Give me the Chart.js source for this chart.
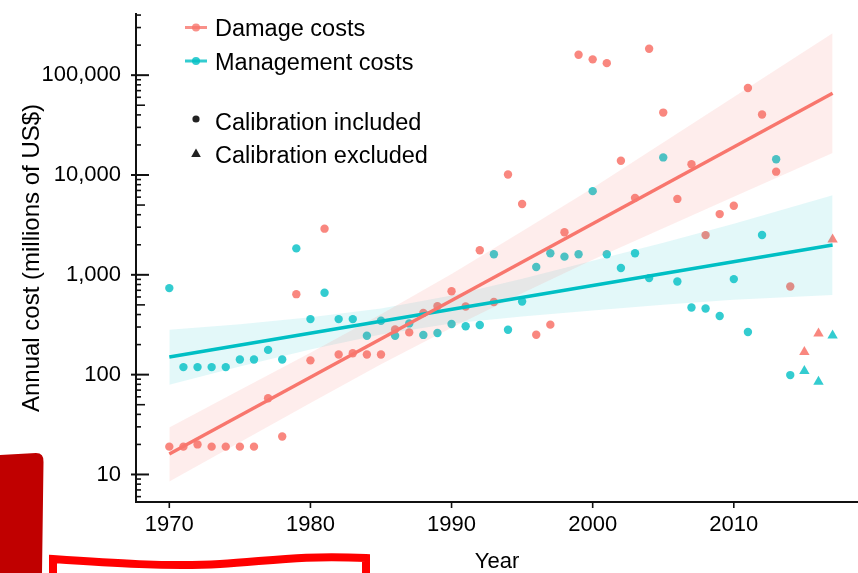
<!DOCTYPE html>
<html>
<head>
<meta charset="utf-8">
<title>Annual cost</title>
<script src="https://cdn.jsdelivr.net/npm/chart.js@4.4.0/dist/chart.umd.min.js"></script>
<style>
  html, body { margin: 0; padding: 0; background: #fff; }
  #wrap { position: relative; width: 858px; height: 573px; }
</style>
</head>
<body>
<div id="wrap"><canvas id="costs-chart"></canvas></div>
<script>
// valores (milhões de US$)
var years = [1970, 1971, 1972, 1973, 1974, 1975, 1976, 1977, 1978, 1979,
             1980, 1981, 1982, 1983, 1984, 1985, 1986, 1987, 1988, 1989,
             1990, 1991, 1992, 1993, 1994, 1995, 1996, 1997, 1998, 1999,
             2000, 2001, 2002, 2003, 2004, 2005, 2006, 2007, 2008, 2009,
             2010, 2011, 2012, 2013, 2014];
var damageCosts = [19, 19, 20, 19, 19, 19, 19, 58, 24, 640,
                   139, 2900, 159, 164, 159, 159, 284, 265, 415, 486,
                   684, 482, 1760, 534, 10100, 5120, 251, 317, 2670, 160000,
                   144000, 132000, 13900, 5900, 184000, 42200, 5760, 12800, 2500, 4060,
                   4920, 74500, 40300, 10800, 764];
var managementCosts = [736, 119, 119, 119, 119, 142, 142, 177, 142, 1840,
                       360, 661, 360, 360, 245, 347, 245, 326, 250, 261,
                       322, 305, 314, 1607, 282, 541, 1197, 1645, 1521, 1607,
                       6890, 1607, 1169, 1645, 927, 15000, 857, 471, 460, 387,
                       906, 267, 2506, 14400, 99];

// anos sem calibração (triângulos)
var excludedYears = [2015, 2016, 2017];
var damageExcluded = [169, 259, 2260];
var managementExcluded = [109, 85, 247];

// retas de tendência e faixas de confiança
var trendYears = [1970, 2017];
var damageTrend = [16, 66000];
var managementTrend = [150, 1990];
var bandYears = [1970, 1975, 1980, 1985, 1990, 1995, 2000, 2005, 2010, 2017];
var damageUpper = [29.5, 70, 166, 403, 1020, 2730, 7430, 21200, 60400, 263000];
var damageLower = [8.5, 21, 52, 127, 295, 655, 1416, 2920, 6040, 16600];
var managementUpper = [282, 320, 375, 460, 621, 916, 1387, 2094, 3243, 6281];
var managementLower = [79, 121, 179, 253, 326, 382, 439, 502, 564, 628];

var xTicks = [1970, 1980, 1990, 2000, 2010];
var yTicks = [10, 100, 1000, 10000, 100000];

var FONT = '"Liberation Sans", Arial, Helvetica, sans-serif';
var RED = '#F8766D', TEAL = '#00BFC4';

function pairs(xs, ys) {
  return xs.map(function(x, i) { return { x: x, y: ys[i] }; });
}

// ticks, legenda e marcações
var extras = {
  id: 'extras',
  afterDraw: function(chart) {
    var ctx = chart.ctx, xs = chart.scales.x, ys = chart.scales.y;
    var left = chart.chartArea.left, bottom = chart.chartArea.bottom;
    ctx.save();
    ctx.strokeStyle = '#111';

    // ticks do eixo y (menores para dentro)
    for (var e = 0; e <= 5; e++) {
      for (var m = 1; m <= 9; m++) {
        var v = m * Math.pow(10, e);
        if (v < ys.min || v > ys.max) continue;
        var py = ys.getPixelForValue(v);
        var x0 = left, x1 = left + 5;
        ctx.lineWidth = 1.6;
        if (m === 1) { x0 = left - 5; x1 = left + 13; ctx.lineWidth = 2; }
        else if (m === 5) { x1 = left + 9; }
        ctx.beginPath();
        ctx.moveTo(x0, py);
        ctx.lineTo(x1, py);
        ctx.stroke();
      }
    }
    // ticks do eixo x
    ctx.lineWidth = 1.6;
    xTicks.forEach(function(t) {
      var px = xs.getPixelForValue(t);
      ctx.beginPath();
      ctx.moveTo(px, bottom);
      ctx.lineTo(px, bottom + 6);
      ctx.stroke();
    });

    // legenda
    ctx.font = '23.5px ' + FONT;
    ctx.textBaseline = 'alphabetic';
    ctx.fillStyle = '#000';
    var lx = 196, tx = 215;
    [[RED, 27.5, 'Damage costs'], [TEAL, 61, 'Management costs']].forEach(function(r) {
      ctx.strokeStyle = r[0];
      ctx.globalAlpha = 0.8;
      ctx.lineWidth = 3;
      ctx.beginPath();
      ctx.moveTo(lx - 11, r[1]);
      ctx.lineTo(lx + 11, r[1]);
      ctx.stroke();
      ctx.fillStyle = r[0];
      ctx.beginPath();
      ctx.arc(lx, r[1], 4, 0, Math.PI * 2);
      ctx.fill();
      ctx.globalAlpha = 1;
      ctx.fillStyle = '#000';
      ctx.fillText(r[2], tx, r[1] + 8.5);
    });
    ctx.fillStyle = '#222';
    ctx.beginPath();
    ctx.arc(lx, 119, 3.6, 0, Math.PI * 2);
    ctx.fill();
    ctx.beginPath();
    ctx.moveTo(lx, 148.5);
    ctx.lineTo(lx + 4.8, 157);
    ctx.lineTo(lx - 4.8, 157);
    ctx.closePath();
    ctx.fill();
    ctx.fillStyle = '#000';
    ctx.fillText('Calibration included', tx, 129.5);
    ctx.fillText('Calibration excluded', tx, 162.5);

    // marcações vermelhas
    ctx.fillStyle = '#C00000';
    ctx.beginPath();
    ctx.moveTo(0, 455);
    ctx.lineTo(36, 453);
    ctx.quadraticCurveTo(44, 453, 43.5, 462);
    ctx.lineTo(42, 573);
    ctx.lineTo(0, 573);
    ctx.closePath();
    ctx.fill();

    ctx.strokeStyle = '#FF0000';
    ctx.lineWidth = 8;
    ctx.lineJoin = 'miter';
    ctx.beginPath();
    ctx.moveTo(53, 575);
    ctx.lineTo(53, 559);
    ctx.bezierCurveTo(110, 563, 170, 567, 220, 564);
    ctx.bezierCurveTo(270, 561, 300, 555, 366, 558);
    ctx.lineTo(366, 575);
    ctx.stroke();
    ctx.restore();
  }
};

var ctx = document.getElementById('costs-chart');

new Chart(ctx, {
  type: 'scatter',
  data: {
    datasets: [
      { data: pairs(trendYears, damageTrend), showLine: true, borderColor: RED,
        borderWidth: 3.4, pointRadius: 0, order: 0 },
      { data: pairs(trendYears, managementTrend), showLine: true, borderColor: TEAL,
        borderWidth: 3.6, pointRadius: 0, order: 0 },
      { data: pairs(bandYears, damageUpper), showLine: true, borderColor: 'rgba(0,0,0,0)',
        pointRadius: 0, fill: '+1', backgroundColor: 'rgba(248,118,109,0.13)', order: 1 },
      { data: pairs(bandYears, damageLower), showLine: true, borderColor: 'rgba(0,0,0,0)',
        pointRadius: 0, fill: false, order: 1 },
      { data: pairs(bandYears, managementUpper), showLine: true, borderColor: 'rgba(0,0,0,0)',
        pointRadius: 0, fill: '+1', backgroundColor: 'rgba(0,191,196,0.11)', order: 1 },
      { data: pairs(bandYears, managementLower), showLine: true, borderColor: 'rgba(0,0,0,0)',
        pointRadius: 0, fill: false, order: 1 },
      { data: pairs(years, damageCosts), pointRadius: 4.2, borderWidth: 0,
        backgroundColor: 'rgba(248,118,109,0.88)', order: 2 },
      { data: pairs(years, managementCosts), pointRadius: 4.2, borderWidth: 0,
        backgroundColor: 'rgba(0,191,196,0.8)', order: 2 },
      { data: pairs(excludedYears, damageExcluded), pointStyle: 'triangle', pointRadius: 6,
        borderWidth: 0, backgroundColor: 'rgba(248,118,109,0.88)', order: 2 },
      { data: pairs(excludedYears, managementExcluded), pointStyle: 'triangle', pointRadius: 6,
        borderWidth: 0, backgroundColor: 'rgba(0,191,196,0.8)', order: 2 }
    ]
  },
  options: {
    responsive: true,
    maintainAspectRatio: false,
    animation: false,
    layout: { autoPadding: false, padding: { top: 14, left: 0, right: 0, bottom: 0 } },
    plugins: {
      legend: { display: false },
      tooltip: { enabled: false }
    },
    scales: {
      x: {
        type: 'linear',
        min: 1967.64,
        max: 2018.8,
        afterBuildTicks: function(s) { s.ticks = xTicks.map(function(v) { return { value: v }; }); },
        afterFit: function(s) { s.height = 71; s.paddingLeft = 0; s.paddingRight = 0; },
        ticks: { padding: 10, maxRotation: 0, autoSkip: false, color: '#000',
                 font: { family: FONT, size: 22 },
                 callback: function(v) { return String(v); } },
        grid: { display: false, drawTicks: false },
        border: { display: true, color: '#111', width: 2 },
        title: { display: true, text: 'Year', color: '#000',
                 font: { family: FONT, size: 22, lineHeight: 1 }, padding: { top: 0, bottom: 0 } }
      },
      y: {
        type: 'logarithmic',
        min: 5.3,
        max: 410000,
        afterBuildTicks: function(s) { s.ticks = yTicks.map(function(v) { return { value: v }; }); },
        afterFit: function(s) { s.width = 136; s.paddingTop = 0; s.paddingBottom = 0; },
        ticks: { padding: 15, color: '#000', autoSkip: false,
                 font: { family: FONT, size: 22 },
                 callback: function(v) { return Number(v).toLocaleString('en-US'); } },
        grid: { display: false, drawTicks: false },
        border: { display: true, color: '#111', width: 2 },
        title: { display: true, text: 'Annual cost (millions of US$)', color: '#000',
                 font: { family: FONT, size: 24, lineHeight: 1 }, padding: { top: 20, bottom: 0 } }
      }
    }
  },
  plugins: [extras]
});
</script>
</body>
</html>
